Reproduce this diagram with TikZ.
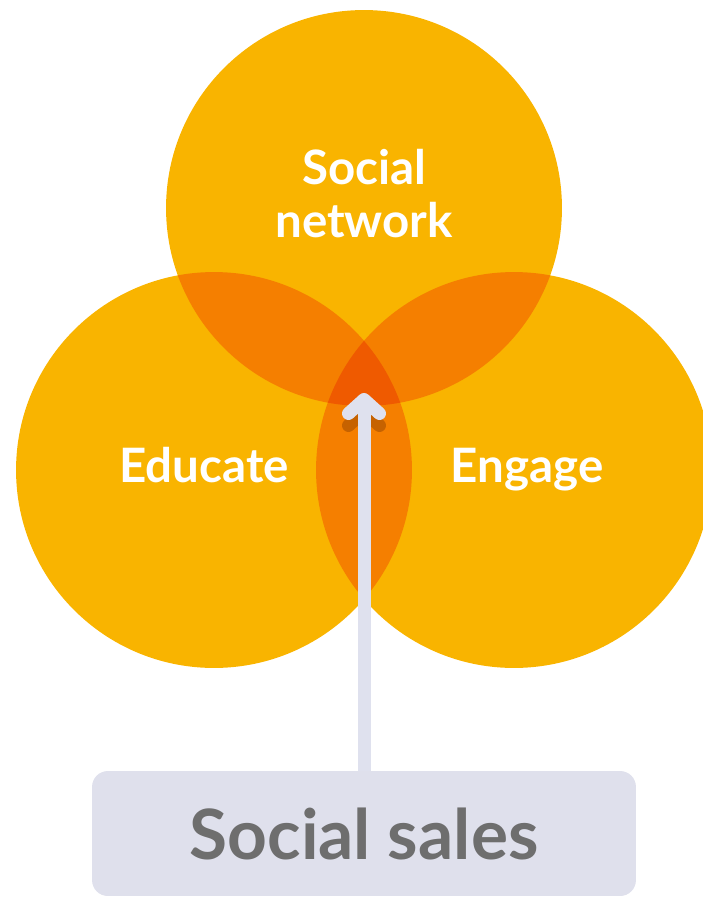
\documentclass[tikz,border=0pt]{standalone}
\usepackage{fontspec}
\setmainfont{Lato}
\usetikzlibrary{calc}

\definecolor{vennbase}{HTML}{F9B400}
\definecolor{venntwo}{HTML}{F57F00}
\definecolor{vennthree}{HTML}{EF5A00}
\definecolor{arrowgray}{HTML}{DFE1EE}
\definecolor{shadoworange}{HTML}{C66200}
\definecolor{boxgray}{HTML}{DFE0EC}
\definecolor{textgray}{HTML}{6E6E6E}

\begin{document}
\begin{tikzpicture}
	[x=0.02cm, y=-0.02cm,%
	venn/.style     ={circle,	fill=vennbase,	inner sep=0pt,	minimum size=7.92cm},%
	vennlabel/.style={text=white,	font=\bfseries\fontsize{27}{30}\selectfont,	align=center,	inner sep=0pt},%
	salesbox/.style ={rectangle,	rounded corners=9pt,	fill=boxgray,	text=textgray,	font=\bfseries\fontsize{39.5}{44}\selectfont,	minimum width=10.88cm,	minimum height=2.5cm},%
	arrowstem/.style={draw=arrowgray,	line width=7.4pt,	line cap=round,	line join=round},%
	]

	\useasboundingbox (0,0) rectangle (703,897);

	% circles
	\node (network)  [venn] at (364,208) {};
	\node (educate)  [venn] at (214,470) {};
	\node (engage)   [venn] at (514,470) {};

	% overlaps
	\begin{scope}
		\clip (network.center) circle [radius=3.96cm];
		\fill [venntwo] (educate.center) circle [radius=3.96cm];
		\fill [venntwo] (engage.center) circle [radius=3.96cm];
	\end{scope}
	\begin{scope}
		\clip (educate.center) circle [radius=3.96cm];
		\fill [venntwo] (engage.center) circle [radius=3.96cm];
		\clip (engage.center) circle [radius=3.96cm];
		\fill [vennthree] (network.center) circle [radius=3.96cm];
	\end{scope}

	% labels
	\node (networktext) [vennlabel, anchor=north] at (364,149) {Social\\network};
	\node (educatetext) [vennlabel, anchor=base]  at (204,482) {Educate};
	\node (engagetext)  [vennlabel, anchor=base]  at (527,482) {Engage};

	% social sales
	\node (sales) [salesbox] at (364,833.5) {Social sales};

	\coordinate (tip)    at (364,399.5);
	\coordinate (tipl)   at ($(tip)+(-15.5,14)$);
	\coordinate (tipr)   at ($(tip)+(15.5,14)$);
	\coordinate (shadow) at ($(tip)+(0,12)$);

	% arrow
	\draw [arrowstem, draw=shadoworange] ($(shadow)+(-15.5,14)$) -- (shadow) -- ($(shadow)+(15.5,14)$);
	\draw [arrowstem, line cap=butt] (sales.north) -- (tip);
	\draw [arrowstem] (tipl) -- (tip) -- (tipr);

\end{tikzpicture}
\end{document}
